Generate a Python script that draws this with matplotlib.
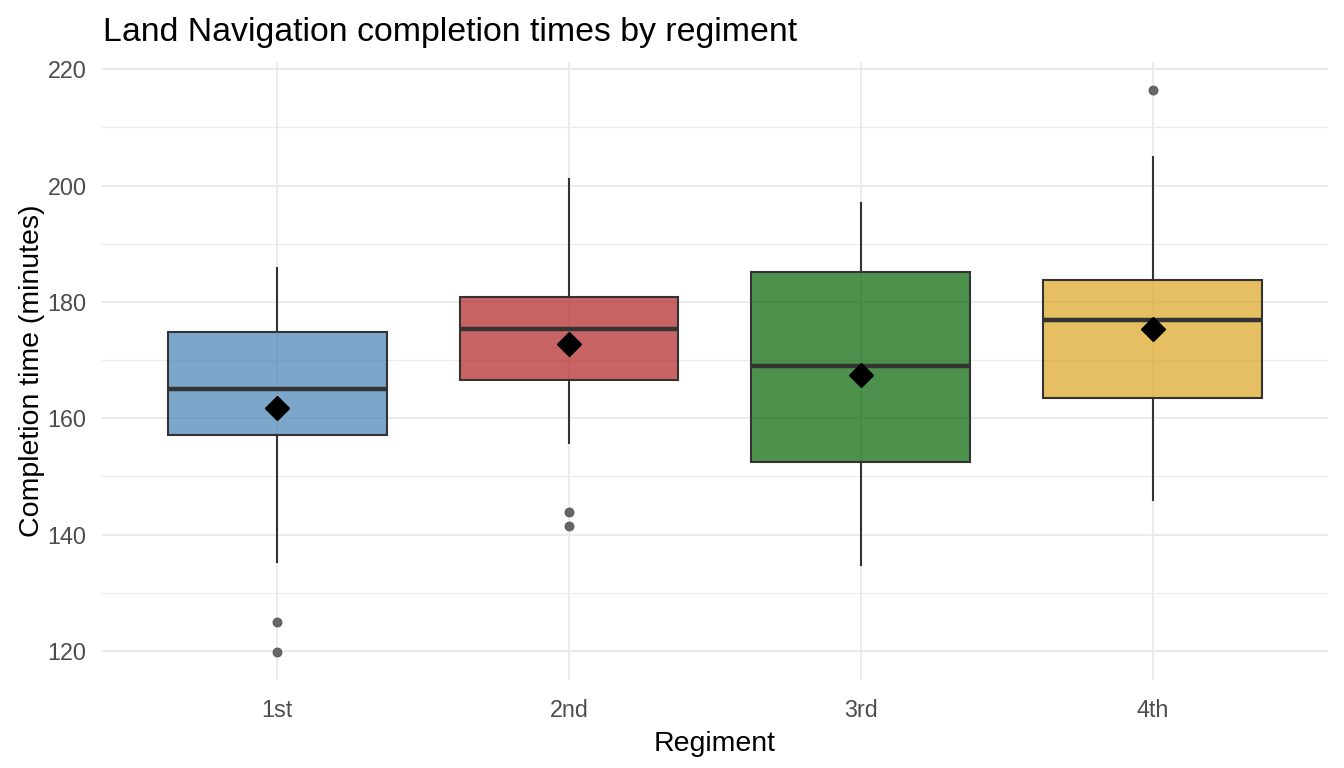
import matplotlib
matplotlib.use("Agg")
import matplotlib.pyplot as plt
import numpy as np

plt.rcParams['font.family'] = ['Liberation Sans', 'DejaVu Sans']

regiments = ["1st", "2nd", "3rd", "4th"]
whisker_low = [135.3, 155.8, 134.8, 145.9]
q1 = [157.1, 166.65, 152.45, 163.4]
median = [165.1, 175.4, 169.0, 176.8]
q3 = [174.9, 180.85, 185.1, 183.8]
whisker_high = [185.8, 201.1, 197.0, 204.9]
means = [161.7, 172.7, 167.5, 175.4]
outliers = [[125.0, 119.8], [143.9, 141.5], [], [216.4]]
fill_colors = ["#4682B4", "#B22222", "#006400", "#DAA520"]

fig = plt.figure(figsize=(13.44, 7.68), dpi=100)
ax = fig.add_axes([0.0759, 0.1146, 0.9121, 0.8044])

stats = []
for i in range(len(regiments)):
    stats.append(dict(med=median[i], q1=q1[i], q3=q3[i], whislo=whisker_low[i],
                      whishi=whisker_high[i], fliers=outliers[i], label=regiments[i]))

pos = np.arange(1, len(regiments) + 1)
bp = ax.bxp(stats, positions=pos, widths=0.75, patch_artist=True, showcaps=False,
            boxprops=dict(edgecolor="#333333", linewidth=1.5),
            medianprops=dict(color="#333333", linewidth=3.2, solid_capstyle='butt'),
            whiskerprops=dict(color="#333333", linewidth=1.5),
            flierprops=dict(marker='o', markerfacecolor='#666666', markeredgecolor='#555555',
                            markersize=6.5, markeredgewidth=0.6, linestyle='none'),
            zorder=3)
for patch, c in zip(bp['boxes'], fill_colors):
    patch.set_facecolor(matplotlib.colors.to_rgba(c, 0.7))

ax.plot(pos, means, linestyle='none', marker='D', color='black', markersize=12, zorder=5)

ax.set_xlim(0.4, 4.6)
ax.set_ylim(115, 221.2)
ax.set_yticks([120, 140, 160, 180, 200, 220])
ax.set_yticks([130, 150, 170, 190, 210], minor=True)
ax.set_xticks(pos)
ax.set_xticklabels(regiments)

ax.grid(True, which='major', color='#EBEBEB', linewidth=1.5)
ax.grid(True, which='minor', axis='y', color='#EBEBEB', linewidth=0.8)
ax.set_axisbelow(True)
for s in ax.spines.values():
    s.set_visible(False)
ax.tick_params(axis='both', which='both', length=0, labelsize=16.8, labelcolor='#4D4D4D')
ax.tick_params(axis='x', pad=13.5)
ax.tick_params(axis='y', pad=11)

ax.set_xlabel("Regiment", fontsize=20.5, color='black', labelpad=6.5)
ax.set_ylabel("Completion time (minutes)", fontsize=20.5, color='black', labelpad=2)
fig.text(0.0766, 0.937, "Land Navigation completion times by regiment", fontsize=24.4,
         color='black', ha='left', va='bottom')

fig.savefig("out.png", dpi=100)
